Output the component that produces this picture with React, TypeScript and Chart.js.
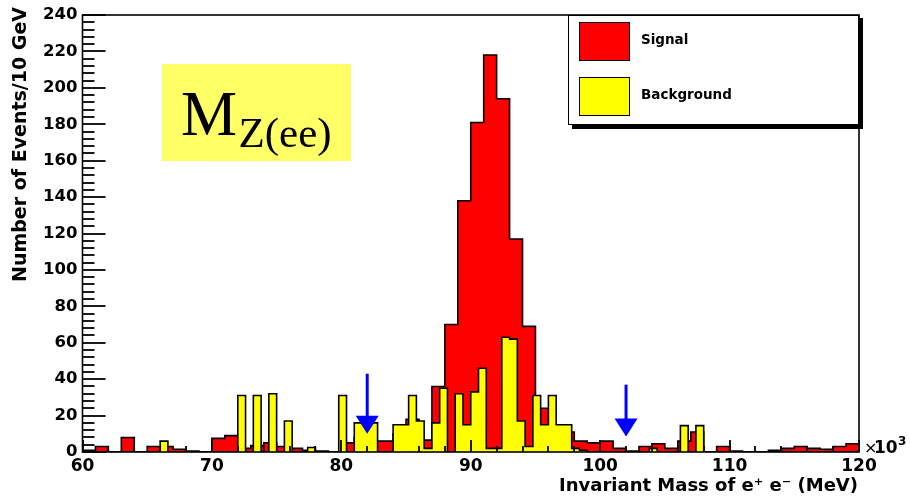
import React, { useEffect, useRef } from 'react';
import { Chart, registerables } from 'chart.js';

Chart.register(...registerables);

// ---- data ----
const X_MIN = 60;
const X_MAX = 120;
const Y_MIN = 0;
const Y_MAX = 240;

const signalBinWidth = 1; // GeV (x10^3 MeV)
const backgroundBinWidth = 0.6;

// Signal: 60 bins of 1 GeV from 60 to 120
const signalCounts = [
  1, 3, 0, 8, 0, 3, 3, 1.5, 0.5, 0,
  7.5, 9, 2, 3.5, 5, 3, 2, 1, 0.5, 0,
  5, 8, 6, 6, 10, 18, 6.5, 36, 70, 138,
  181, 218, 194, 117, 69, 24, 12, 11, 6, 5,
  6, 2, 0.5, 3, 4.5, 2, 6, 11, 0, 3,
  0.5, 0, 0, 1, 2, 3, 2, 1.5, 3, 4.5,
];

// Background: 100 bins of 0.6 GeV from 60 to 120
const backgroundCounts = [
  0, 0, 0, 0, 0, 0, 0, 0, 0, 0,
  6, 0, 0, 0, 0, 0, 0, 0, 0, 0,
  31, 0, 31, 0, 32, 0, 17, 0, 0, 2.5,
  0, 0, 0, 31, 0, 16, 16, 16, 0, 0,
  15, 15, 31, 17, 2, 16, 35, 0, 32, 15,
  33, 46, 2, 2, 63, 62, 17, 3, 31, 15,
  31, 15, 15, 2, 1, 0, 0, 0, 0, 0,
  0, 0, 0, 2, 0, 0, 0, 14.5, 0, 14.5,
  0, 0, 0, 0, 0, 0, 0, 0, 0, 0.5,
  0, 0, 0, 0, 0, 0, 0, 0, 0, 0,
];

const xTickLabels = [60, 70, 80, 90, 100, 110, 120];
const yTickLabels = [0, 20, 40, 60, 80, 100, 120, 140, 160, 180, 200, 220, 240];
const xMinorStep = 2;
const yMinorStep = 4;

// cut arrows
const cutMass = [82, 102];
const arrowTop = [43, 37];
const arrowTip = [10, 8.5];

const seriesNames = ['Signal', 'Background'];
const seriesColors = ['#ff0000', '#ffff00'];

const FONT = "'DejaVu Sans'";

function stepPoints(counts: number[], lo: number, width: number) {
  const pts: { x: number; y: number }[] = [{ x: lo, y: 0 }];
  counts.forEach((c, i) => pts.push({ x: lo + i * width, y: c }));
  const end = lo + counts.length * width;
  pts.push({ x: end, y: counts[counts.length - 1] });
  pts.push({ x: end, y: 0 });
  return pts;
}

function isMajor(list: number[], v: number) {
  for (let i = 0; i < list.length; i++) {
    if (Math.abs(list[i] - v) < 1e-6) return true;
  }
  return false;
}

const overlayPlugin = {
  id: 'overlay',
  afterDraw(chart: any) {
    const ctx: CanvasRenderingContext2D = chart.ctx;
    const a = chart.chartArea;
    const x = chart.scales.x;
    const y = chart.scales.y;
    ctx.save();

    // frame
    ctx.strokeStyle = '#000000';
    ctx.lineWidth = 1.6;
    ctx.strokeRect(a.left, a.top, a.right - a.left, a.bottom - a.top);

    // inward ticks
    ctx.strokeStyle = '#000000';
    ctx.lineWidth = 1.8;
    const nx = Math.round((X_MAX - X_MIN) / xMinorStep);
    for (let k = 0; k <= nx; k++) {
      const v = X_MIN + k * xMinorStep;
      const px = Math.round(x.getPixelForValue(v));
      const len = isMajor(xTickLabels, v) ? 12 : 6;
      ctx.beginPath();
      ctx.moveTo(px, a.bottom);
      ctx.lineTo(px, a.bottom - len);
      ctx.stroke();
    }
    const ny = Math.round((Y_MAX - Y_MIN) / yMinorStep);
    for (let k = 0; k <= ny; k++) {
      const v = Y_MIN + k * yMinorStep;
      const py = Math.round(y.getPixelForValue(v));
      const len = isMajor(yTickLabels, v) ? 23 : 12;
      ctx.beginPath();
      ctx.moveTo(a.left, py);
      ctx.lineTo(a.left + len, py);
      ctx.stroke();
    }

    // arrows
    ctx.fillStyle = '#0000ff';
    ctx.strokeStyle = '#0000ff';
    cutMass.forEach((m, i) => {
      const px = x.getPixelForValue(m);
      const top = y.getPixelForValue(arrowTop[i]);
      const tip = y.getPixelForValue(arrowTip[i]);
      const headH = 18;
      const headW = 23;
      ctx.lineWidth = 3;
      ctx.beginPath();
      ctx.moveTo(px, top);
      ctx.lineTo(px, tip - headH + 2);
      ctx.stroke();
      ctx.beginPath();
      ctx.moveTo(px - headW / 2, tip - headH);
      ctx.lineTo(px + headW / 2, tip - headH);
      ctx.lineTo(px, tip);
      ctx.closePath();
      ctx.fill();
    });

    // M_Z(ee) label
    ctx.fillStyle = '#ffff66';
    ctx.fillRect(162, 64, 189, 97);
    ctx.fillStyle = '#000';
    ctx.textAlign = 'left';
    ctx.textBaseline = 'alphabetic';
    ctx.font = "63px 'Liberation Serif'";
    ctx.fillText('M', 181, 135);
    ctx.font = "43px 'Liberation Serif'";
    ctx.fillText('Z(ee)', 238.5, 146.7);

    // legend
    const lx = 568, ly = a.top, lw = a.right - 568, lh = 110;
    ctx.fillStyle = '#000';
    ctx.fillRect(lx + 4, ly + 3, lw, lh + 1);
    ctx.fillStyle = '#fff';
    ctx.fillRect(lx, ly, lw, lh);
    ctx.strokeStyle = '#000';
    ctx.lineWidth = 1;
    ctx.strokeRect(lx + 0.5, ly + 0.5, lw - 1, lh - 1);
    const swY = [22, 77];
    const txY = [44, 99];
    seriesNames.forEach((name, i) => {
      ctx.fillStyle = seriesColors[i];
      ctx.fillRect(579, swY[i], 51, 39);
      ctx.strokeStyle = '#000';
      ctx.lineWidth = 1;
      ctx.strokeRect(579.5, swY[i] + 0.5, 50, 38);
      ctx.fillStyle = '#000';
      ctx.font = `bold 13.5px ${FONT}`;
      ctx.textAlign = 'left';
      ctx.fillText(name, 641, txY[i]);
    });

    // axis titles
    ctx.fillStyle = '#000';
    ctx.font = `bold 18px ${FONT}`;
    ctx.textAlign = 'right';
    ctx.textBaseline = 'alphabetic';
    ctx.fillText('Invariant Mass of e\u207A e\u207B (MeV)', 858, 491);

    ctx.save();
    ctx.translate(26, 7);
    ctx.rotate(-Math.PI / 2);
    ctx.font = `bold 19px ${FONT}`;
    ctx.textAlign = 'right';
    ctx.fillText('Number of Events/10 GeV', 0, 0);
    ctx.restore();

    // x10^3
    ctx.textAlign = 'left';
    ctx.font = `16px ${FONT}`;
    ctx.fillText('\u00D7', 864, 453);
    ctx.font = `bold 17px ${FONT}`;
    ctx.fillText('10', 874, 453);
    ctx.font = `bold 12px ${FONT}`;
    ctx.fillText('3', 898, 445);

    ctx.restore();
  },
};

export default function App() {
  const ref = useRef<HTMLCanvasElement | null>(null);

  useEffect(() => {
    if (!ref.current) return;
    const chart = new Chart(ref.current, {
      type: 'line',
      data: {
        datasets: [
          {
            label: seriesNames[1],
            data: stepPoints(backgroundCounts, X_MIN, backgroundBinWidth),
            stepped: true,
            fill: 'origin',
            backgroundColor: seriesColors[1],
            borderColor: '#000',
            borderWidth: 1.6,
            pointRadius: 0,
            order: 0,
          },
          {
            label: seriesNames[0],
            data: stepPoints(signalCounts, X_MIN, signalBinWidth),
            stepped: true,
            fill: 'origin',
            backgroundColor: seriesColors[0],
            borderColor: '#000',
            borderWidth: 1.6,
            pointRadius: 0,
            order: 1,
          },
        ],
      },
      options: {
        animation: false,
        responsive: false,
        maintainAspectRatio: false,
        layout: { padding: { left: 0, top: 15, right: 51, bottom: 0 } },
        plugins: {
          legend: { display: false },
          tooltip: { enabled: false },
        },
        scales: {
          x: {
            type: 'linear',
            min: X_MIN,
            max: X_MAX,
            grid: { display: false, drawTicks: false },
            border: { display: false },
            afterBuildTicks: (s: any) => {
              s.ticks = xTickLabels.map((v) => ({ value: v }));
            },
            afterFit: (s: any) => {
              s.height = 46;
            },
            ticks: {
              color: '#000',
              padding: 4,
              maxRotation: 0,
              autoSkip: false,
              font: { family: FONT, size: 17, weight: 'bold' },
            },
          },
          y: {
            type: 'linear',
            min: Y_MIN,
            max: Y_MAX,
            grid: { display: false, drawTicks: false },
            border: { display: false },
            afterBuildTicks: (s: any) => {
              s.ticks = yTickLabels.map((v) => ({ value: v }));
            },
            afterFit: (s: any) => {
              s.width = 82.5;
            },
            ticks: {
              color: '#000',
              padding: 5,
              autoSkip: false,
              font: { family: FONT, size: 16.5, weight: 'bold' },
            },
          },
        },
      } as any,
      plugins: [overlayPlugin],
    });
    return () => chart.destroy();
  }, []);

  return (
    <div style={{ position: 'fixed', left: 0, top: 0, width: 910, height: 498, background: '#fff' }}>
      <canvas ref={ref} width={910} height={498} style={{ width: 910, height: 498, display: 'block' }} />
    </div>
  );
}
